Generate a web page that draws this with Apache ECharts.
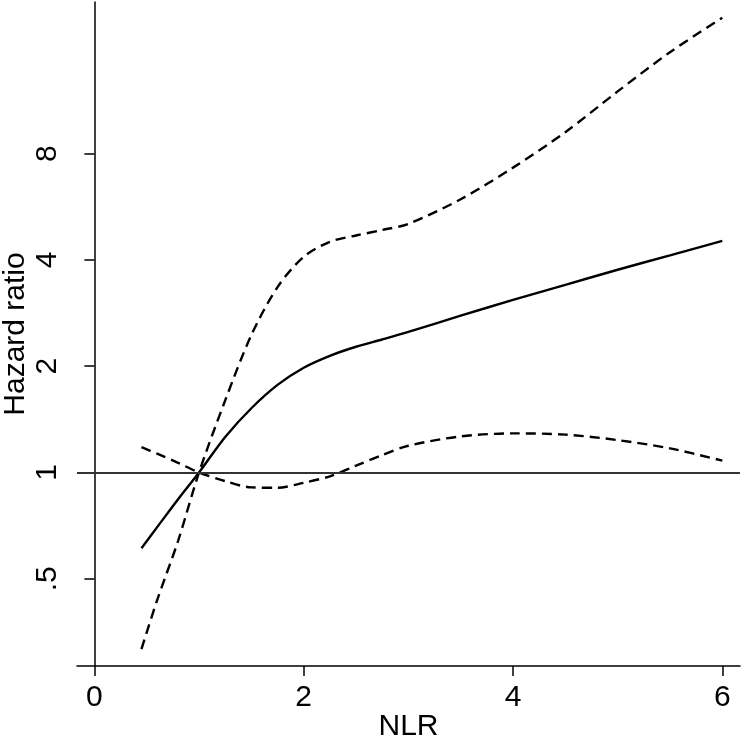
<!DOCTYPE html>
<html><head><meta charset="utf-8">
<script src="https://cdn.jsdelivr.net/npm/echarts@6/dist/echarts.min.js"></script>
<style>html,body{margin:0;padding:0;background:#fff}#c{width:745px;height:739px}</style>
</head><body><div id="c"></div>
<script>
// NLR values (x)
const nlr = [0.45, 0.6, 0.8, 1.0, 1.25, 1.5, 1.75, 2.0, 2.25, 2.5, 2.75, 3.0, 3.5, 4.0, 4.5, 5.0, 5.5, 6.0];
// Hazard ratio (solid)
const hazardRatio = [0.61, 0.70, 0.84, 1.0, 1.26, 1.52, 1.77, 1.98, 2.14, 2.27, 2.38, 2.50, 2.78, 3.08, 3.40, 3.75, 4.12, 4.53];
// 95% CI branch: lower bound below NLR=1, upper bound above (steep dashed)
const ciSteep = [0.316, 0.435, 0.64, 1.0, 1.6, 2.45, 3.35, 4.08, 4.5, 4.69, 4.86, 5.06, 5.94, 7.3, 9.2, 12.0, 15.5, 19.4];
// 95% CI branch: upper bound below NLR=1, lower bound above (flat dashed)
const ciFlat = [1.18, 1.13, 1.065, 1.0, 0.945, 0.907, 0.905, 0.935, 0.975, 1.045, 1.12, 1.19, 1.265, 1.29, 1.28, 1.235, 1.17, 1.08];
const xTicks = [0, 2, 4, 6];
const yTicks = [0.5, 1, 2, 4, 8];
const yTickLabels = ['.5', '1', '2', '4', '8'];
const refValue = 1;

const font = '"Liberation Sans", Arial, Helvetica, sans-serif';
const pair = ys => nlr.map((x, i) => [x, ys[i]]);
const chart = echarts.init(document.getElementById('c'), null, {renderer: 'canvas'});
const axisLineStyle = {color: '#000', width: 1.5};
chart.setOption({
  animation: false,
  backgroundColor: '#fff',
  grid: {left: 77, right: 5, top: 2, bottom: 73, containLabel: false, outerBoundsMode: 'none'},
  xAxis: {
    type: 'value', min: -0.166, max: 6.169,
    name: 'NLR', nameLocation: 'middle', nameGap: 46, nameMoveOverlap: false,
    nameTextStyle: {fontFamily: font, fontSize: 30, color: '#000'},
    axisLine: {onZero: false, lineStyle: axisLineStyle},
    axisTick: {customValues: xTicks, length: 10, lineStyle: axisLineStyle},
    axisLabel: {customValues: xTicks, fontFamily: font, fontSize: 30, color: '#000', margin: 17},
    splitLine: {show: false}
  },
  yAxis: {
    type: 'log', logBase: 2, min: 0.283, max: 21.5,
    name: 'Hazard ratio', nameLocation: 'middle', nameGap: 46, nameMoveOverlap: false,
    nameTextStyle: {fontFamily: font, fontSize: 30, color: '#000'},
    axisLine: {show: true, lineStyle: axisLineStyle},
    axisTick: {show: true, customValues: yTicks, length: 10, lineStyle: axisLineStyle},
    axisLabel: {customValues: yTicks, rotate: 90, fontFamily: font, fontSize: 30, color: '#000', margin: 14,
      formatter: v => { const i = yTicks.findIndex(t => Math.abs(t - v) < 1e-6); return i >= 0 ? yTickLabels[i] : ''; }},
    splitLine: {show: false}
  },
  series: [
    {type: 'line', data: pair(hazardRatio), smooth: 0.3, showSymbol: false,
      lineStyle: {color: '#000', width: 2.4},
      markLine: {silent: true, symbol: 'none', label: {show: false},
        lineStyle: {color: '#333', width: 1.8, type: 'solid'}, data: [{yAxis: refValue}]}},
    {type: 'line', data: pair(ciSteep), smooth: 0.3, showSymbol: false,
      lineStyle: {color: '#000', width: 2.4, type: [10, 6]}},
    {type: 'line', data: pair(ciFlat), smooth: 0.3, showSymbol: false,
      lineStyle: {color: '#000', width: 2.4, type: [10, 6]}}
  ]
});
</script>
</body></html>
